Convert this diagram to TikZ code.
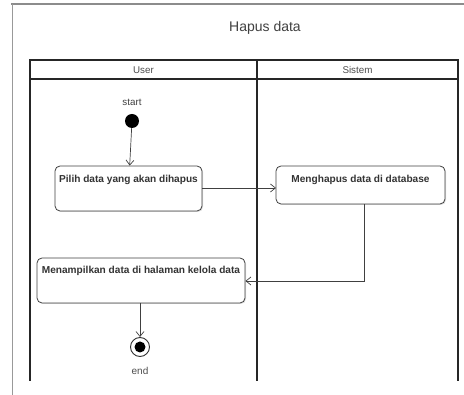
\documentclass[tikz,border=0pt]{standalone}
\usepackage{fontspec}
\setmainfont{Liberation Sans}
\usetikzlibrary{arrows.meta,calc,shadows}

\tikzset{
	act/.style={draw=black!75, fill=white, rounded corners=5pt, line width=0.8pt,
		font=\fontsize{10.1}{12}\selectfont\bfseries, text=black!80,
		drop shadow={shadow xshift=1pt, shadow yshift=-1pt, opacity=0.25},
		inner xsep=0pt, inner ysep=0pt},
	lane/.style={line width=1.2pt, draw=black!85},
	flow/.style={-{Straight Barb[length=5pt,width=8pt]}, color=black!75, line width=0.7pt}
}

\begin{document}
\begin{tikzpicture}[x=1pt,y=-1pt]

\useasboundingbox (0,0) rectangle (464,395);

% frame
\draw[black!45, line width=1.6pt] (11,4) -- (464,4);
\draw[black!40, line width=0.8pt] (12,4) -- (12,395);

\node (title) at (265,28) {\fontsize{14}{16}\selectfont\color{black!75}Hapus data};

% swimlanes
\draw[lane] (30,381) -- (30,60) -- (458,60) -- (458,381);
\draw[lane] (30,79) -- (458,79);
\draw[lane] (257,60) -- (257,381);
\node (u) at (143.5,70) {\fontsize{9.8}{11}\selectfont\color{black!70}User};
\node (s) at (357.5,70) {\fontsize{9.8}{11}\selectfont\color{black!70}Sistem};

% start / end
\node (startlbl) at (132,102) {\fontsize{9.8}{11}\selectfont\color{black!75}start};
\node[circle, fill=black, minimum size=14pt, inner sep=0pt] (start) at (132,121) {};

\node[act, minimum width=147pt, minimum height=45pt, text height=17pt, text depth=28pt] (pilih) at (128.5,188.5) {Pilih data yang akan dihapus};
\node[act, minimum width=169pt, minimum height=38pt, text height=16.5pt, text depth=21.5pt] (hapus) at (360.5,185) {Menghapus data di database};
\node[act, minimum width=208pt, minimum height=45pt, text height=15.5pt, text depth=29.5pt] (tampil) at (141,280.5) {Menampilkan data di halaman kelola data};

\node[circle, draw=black!80, line width=0.9pt, fill=white, minimum size=19pt, inner sep=0pt] (end) at (140,347) {};
\node[circle, fill=black, minimum size=11pt, inner sep=0pt] at (end) {};
\node (endlbl) at (140,371) {\fontsize{10}{11}\selectfont\color{black!70}end};

\coordinate (p1) at (202,188);
\coordinate (h1) at (276,188);
\coordinate (bend) at (364,281);
\coordinate (t1) at (140,303);

\path[flow]
	(start) edge (pilih)
	(p1) edge (h1)
	(t1) edge (end);
\draw[flow] (hapus.south -| bend) -- (bend) -- (tampil.east |- bend);

\end{tikzpicture}
\end{document}
